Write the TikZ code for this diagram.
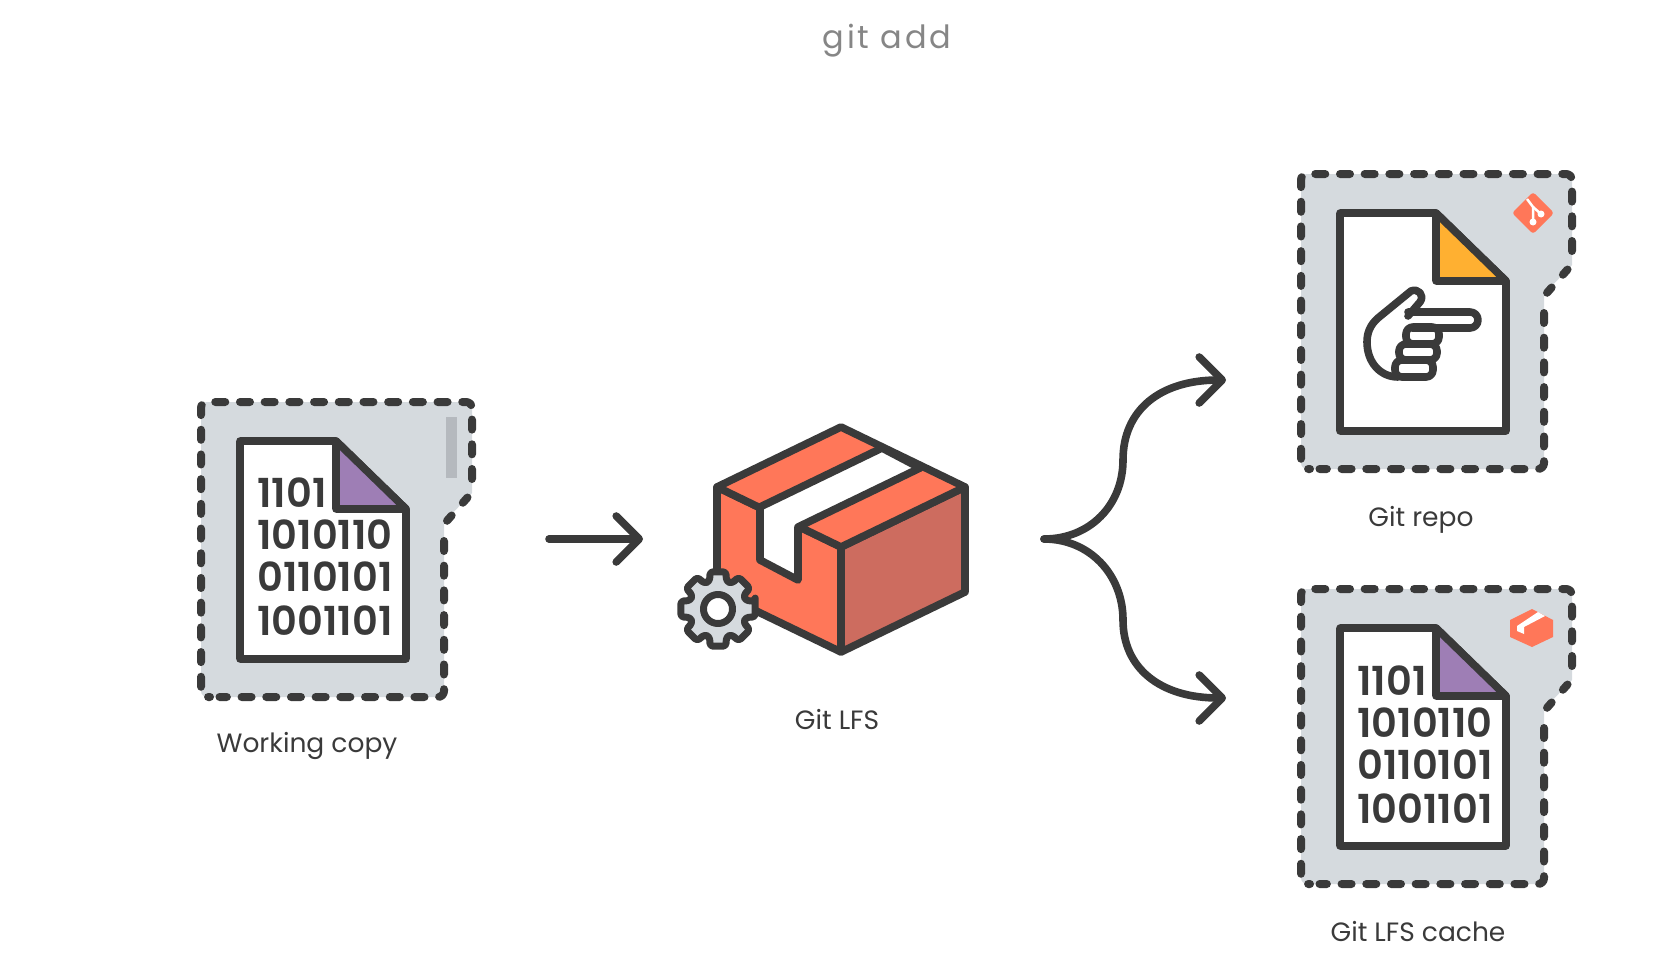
\documentclass[tikz,border=0pt]{standalone}
\usepackage{fontspec}
\setmainfont{Poppins}
\newfontfamily\binfont{Poppins}[UprightFont=* SemiBold]
\usetikzlibrary{arrows.meta}
\definecolor{ink}{HTML}{3A3A3A}
\definecolor{panelgray}{HTML}{D5DADE}
\definecolor{bargray}{HTML}{B5B9BE}
\definecolor{boxorange}{HTML}{FF7759}
\definecolor{boxshade}{HTML}{CD6C5F}
\definecolor{foldpurple}{HTML}{9E7EB5}
\definecolor{foldorange}{HTML}{FFB031}
\tikzset{
  outline/.style={draw=ink, line width=7.6pt, line join=round, line cap=round},
  flow/.style={outline, -{Straight Barb[length=23pt,width=46pt,round]}},
  dashline/.style={draw=ink, line width=8pt, line cap=round, line join=round, rounded corners=6pt, dash pattern=on 10pt off 14.7pt},
  label/.style={text=ink, font=\fontsize{26.5}{30}\selectfont},
  binrow/.style={anchor=west, text=ink, inner sep=0pt, font=\binfont\fontsize{40}{40}\selectfont}
}
% panel with dashed edge and a file: x, y, colour of the fold
\newcommand{\filepanel}[3]{
  \begin{scope}[shift={(#1,#2)}]
    \fill[panelgray, rounded corners=6pt] (0,0) -- (271,0) [sharp corners] -- (271,91) -- (243,120) [rounded corners=6pt] -- (243,295) -- (0,295) -- cycle;
    \draw[dashline] (271,77) -- (271,0) -- (0,0) -- (0,295) -- (9,295);
    \draw[dashline, dash pattern=on 7pt off 17pt] (266.5,95.5) -- (244.5,120.5);
    \draw[dashline] (243,139) -- (243,295) -- (18.5,295);
    \draw[outline, fill=white] (39,39) -- (135,39) -- (205,107) -- (205,257) -- (39,257) -- cycle;
    \draw[outline, fill=#3] (135,39) -- (205,107) -- (135,107) -- cycle;
  \end{scope}
}
\begin{document}
\begin{tikzpicture}[x=1pt, y=-1pt]
  \useasboundingbox (0,0) rectangle (1672,958);

  % Titolo
  \node[text=gray!95, font=\fontsize{32}{36}\selectfont\addfontfeature{LetterSpace=9}] (title) at (887,41) {git add};

  % Working copy
  \filepanel{201}{402}{foldpurple}
  \fill[bargray] (446,417) rectangle (457,478);
  \node[binrow] (wcA) at (257,493) {1101};
  \node[binrow] (wcB) at (257,535) {1010110};
  \node[binrow] (wcC) at (257,577) {0110101};
  \node[binrow] (wcD) at (257,621) {1001101};
  \node[label] (wclabel) at (307,746) {Working copy};

  % Scatola
  \draw[outline, fill=boxorange] (717,487) -- (841,547) -- (841,652) -- (717,592) -- cycle;
  \draw[outline, fill=boxshade] (841,547) -- (965,487) -- (965,592) -- (841,652) -- cycle;
  \draw[outline, fill=boxorange] (717,487) -- (841,427) -- (965,487) -- (841,547) -- cycle;
  \draw[outline, fill=white] (760,507) -- (882,448) -- (920,468) -- (798,527) -- (798,580) -- (760,560) -- cycle;
  % Ingranaggio
  \begin{scope}[shift={(718,609)}]
    \draw[outline, fill=panelgray, line width=7pt, rounded corners=3pt] (-12:38)
      \foreach \a in {0,45,...,315} { -- (\a-12:38) -- (\a+12:38) -- (\a+17:29) -- (\a+28:29) } -- cycle;
    \draw[outline, fill=white, line width=7pt] (0,0) circle (14.5);
  \end{scope}
  \node[label] (lfslabel) at (837,719) {Git LFS};

  % Git repo
  \filepanel{1301}{174}{foldorange}
  \fill[boxorange, rounded corners=3pt] (1533,192) -- (1554,213) -- (1533,234) -- (1512,213) -- cycle;
  \draw[white, line width=2.5pt] (1527,199) -- (1533,207) -- (1533,222);
  \draw[white, line width=2.5pt] (1533,207) -- (1541,214);
  \fill[white] (1533,222) circle (3.5) (1541,214) circle (3.5);
  % Mano
  \draw[outline] (1408,316) -- (1420,302) .. controls (1425,295) and (1418,288) .. (1411,291) -- (1378,318) .. controls (1370,325) and (1367,333) .. (1367,342) .. controls (1367,362) and (1380,377) .. (1398,377);
  \draw[outline, rounded corners=8pt] (1408,312) -- (1478,312) -- (1478,328) -- (1412,328);
  \draw[outline, rounded corners=7pt] (1406,327) rectangle (1439,344);
  \draw[outline, rounded corners=7pt] (1399,344) rectangle (1437,360);
  \draw[outline, rounded corners=7pt] (1395,360) rectangle (1433,377);
  \node[label] (repolabel) at (1421,520) {Git repo};

  % Git LFS cache
  \filepanel{1301}{589}{foldpurple}
  \fill[boxorange] (1532,609) -- (1553,620) -- (1553,637) -- (1532,647) -- (1510,637) -- (1510,620) -- cycle;
  \fill[white] (1517,626) -- (1538,612) -- (1545,616) -- (1524,627) -- (1524,634) -- (1517,631) -- cycle;
  \node[binrow] (lcA) at (1357,681) {1101};
  \node[binrow] (lcB) at (1357,723) {1010110};
  \node[binrow] (lcC) at (1357,765) {0110101};
  \node[binrow] (lcD) at (1357,809) {1001101};
  \node[label] (cachelabel) at (1418,932) {Git LFS cache};

  % Collegamenti
  \coordinate (wcout) at (549,539);
  \coordinate (lfsin) at (643,539);
  \coordinate (lfsout) at (1044,539);
  \coordinate (repoin) at (1226,380);
  \coordinate (cachein) at (1226,698);
  \draw[flow] (wcout) -- (lfsin);
  \draw[flow] (lfsout) .. controls (1090,539) and (1123,505) .. (1123,460) .. controls (1123,410) and (1160,380) .. (repoin);
  \draw[flow] (lfsout) .. controls (1090,539) and (1123,575) .. (1123,620) .. controls (1123,668) and (1160,698) .. (cachein);
\end{tikzpicture}
\end{document}
